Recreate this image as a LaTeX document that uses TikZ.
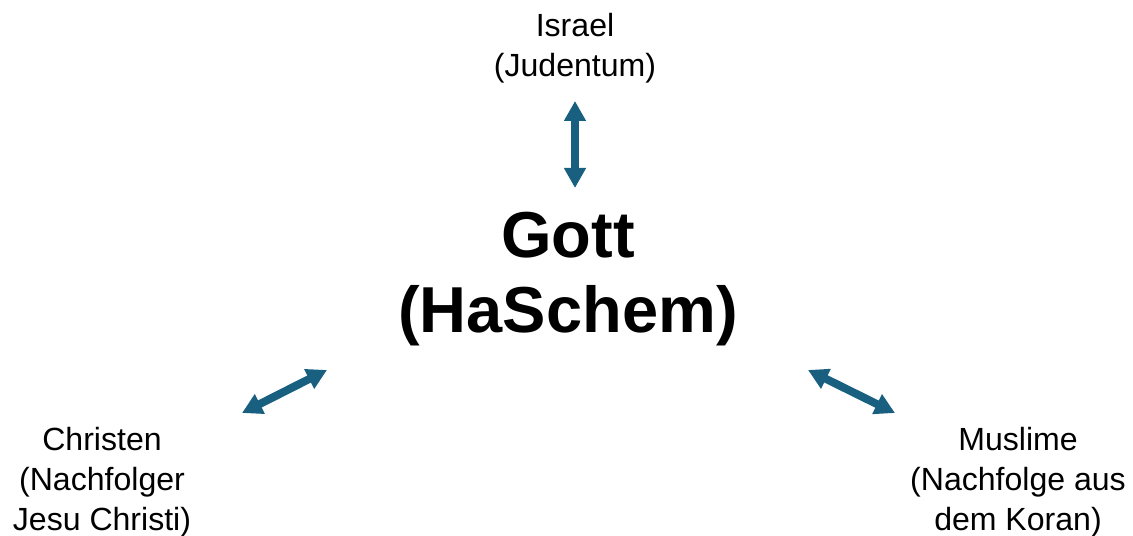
\documentclass[tikz,border=0pt]{standalone}
\usepackage{fontspec}
\setmainfont{Liberation Sans}
\usepackage{tikz}
\usetikzlibrary{arrows.meta,positioning}

\definecolor{arrowblue}{RGB}{24,95,128}

\begin{document}
\begin{tikzpicture}[x=0.025cm, y=-0.025cm, align=center]
    \tikzset{
        small/.style    =   { inner sep=0pt
                            , font=\fontsize{22.8}{28.5}\selectfont
        }
        , big/.style    =   { inner sep=0pt
                            , font=\fontsize{46.2}{53.4}\selectfont\bfseries
        }
        , link/.style   =   { arrowblue
                            , line width=0.2cm
                            , {Triangle[length=0.5cm,width=0.52cm]}-{Triangle[length=0.5cm,width=0.52cm]}
        }
    }
    \useasboundingbox (0,0) rectangle (1133,536);

    \node(gott)[big]        at (568,279)  {Gott\\(HaSchem)};
    \node(israel)[small]    at (575,48)   {Israel\\(Judentum)};
    \node(christen)[small]  at (102,482)  {Christen\\(Nachfolger\\Jesu Christi)};
    \node(muslime)[small]   at (1018,482) {Muslime\\(Nachfolge aus\\dem Koran)};

    % arrow ends
    \coordinate(i1) at (575,101);
    \coordinate(i2) at (575,188);
    \coordinate(c1) at (242,413);
    \coordinate(c2) at (327,370);
    \coordinate(m1) at (808,370);
    \coordinate(m2) at (895,413);

    \draw[link] (i1) -- (i2);
    \draw[link] (c1) -- (c2);
    \draw[link] (m1) -- (m2);
\end{tikzpicture}
\end{document}
